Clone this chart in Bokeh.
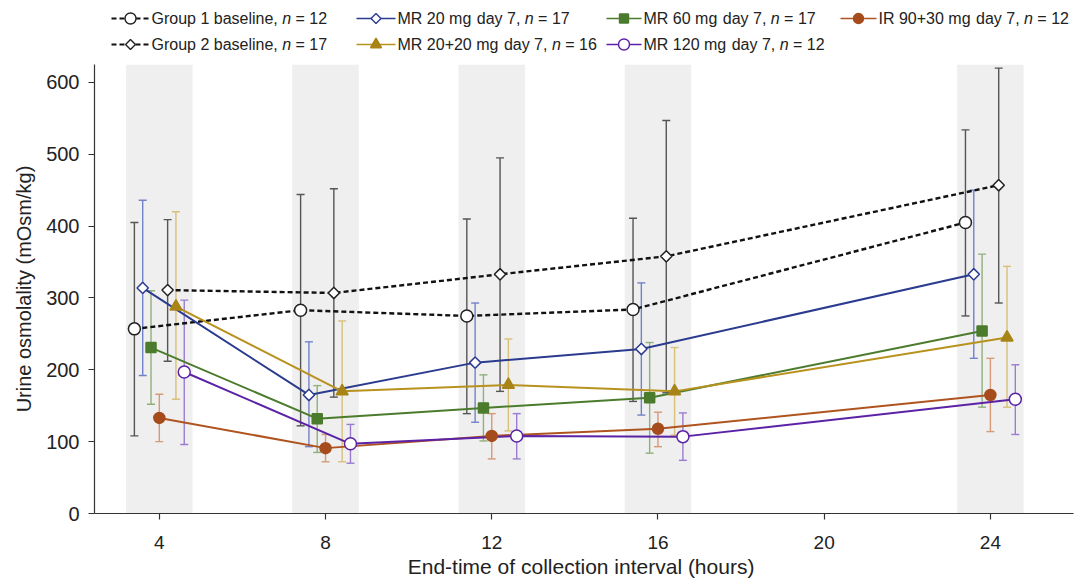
import numpy as np
from bokeh.plotting import figure
from bokeh.layouts import column
from bokeh.models import Range1d, FixedTicker
from bokeh.core.properties import value
from bokeh.embed import file_html
from bokeh.resources import INLINE

# ---------------- data ----------------
times = [4, 8, 12, 16, 24]
x_ticks = [4, 8, 12, 16, 20, 24]
y_ticks = [0, 100, 200, 300, 400, 500, 600]

series_names = ["Group 1 baseline", "MR 20 mg  day 7", "MR 60 mg  day 7", "IR 90+30 mg  day 7",
                "Group 2 baseline", "MR 20+20 mg  day 7", "MR 120 mg  day 7"]
series_n = [12, 17, 17, 12, 17, 16, 12]

g1_mean = [257, 283, 275, 284, 405]
g1_upper = [405, 444, 410, 411, 534]
g1_lower = [108, 122, 139, 156, 275]

mr20_mean = [314, 165, 210, 229, 333]
mr20_upper = [436, 239, 293, 321, 450]
mr20_lower = [192, 93, 127, 137, 216]

mr60_mean = [231, 132, 147, 161, 254]
mr60_upper = [310, 178, 193, 238, 361]
mr60_lower = [152, 85, 101, 84, 148]

ir_mean = [133, 91, 108, 118, 165]
ir_upper = [166, 110, 139, 141, 216]
ir_lower = [100, 72, 76, 93, 114]

g2_mean = [311, 307, 333, 358, 457]
g2_upper = [409, 452, 495, 547, 620]
g2_lower = [212, 162, 170, 168, 293]

mr2020_mean = [288, 170, 179, 170, 245]
mr2020_upper = [420, 268, 243, 231, 344]
mr2020_lower = [159, 72, 115, 109, 148]

mr120_mean = [197, 97, 108, 107, 159]
mr120_upper = [297, 124, 139, 140, 207]
mr120_lower = [96, 70, 76, 74, 110]

means = [g1_mean, mr20_mean, mr60_mean, ir_mean, g2_mean, mr2020_mean, mr120_mean]
uppers = [g1_upper, mr20_upper, mr60_upper, ir_upper, g2_upper, mr2020_upper, mr120_upper]
lowers = [g1_lower, mr20_lower, mr60_lower, ir_lower, g2_lower, mr2020_lower, mr120_lower]

# ---------------- styles ----------------
FONT = "Liberation Sans"
offsets = [-0.6, -0.4, -0.2, 0.0, 0.2, 0.4, 0.6]
styles = [
    dict(line="#111111", dash="5 3", lw=2.4, err="#555555", marker="circle", size=12, fill="white", mline="#222222", angle=0),
    dict(line="#2b3b8f", dash="solid", lw=2.0, err="#7282c8", marker="square", size=8, fill="white", mline="#2b3b8f", angle=np.pi / 4),
    dict(line="#4b7b2c", dash="solid", lw=2.0, err="#8fb07a", marker="square", size=10, fill="#4b7b2c", mline="#4b7b2c", angle=0),
    dict(line="#b0541f", dash="solid", lw=2.0, err="#d69a78", marker="circle", size=11, fill="#a64c1c", mline="#a64c1c", angle=0),
    dict(line="#111111", dash="5 3", lw=2.4, err="#555555", marker="square", size=8, fill="white", mline="#222222", angle=np.pi / 4),
    dict(line="#b8921f", dash="solid", lw=2.0, err="#d8c07a", marker="triangle", size=12, fill="#a88416", mline="#a88416", angle=0),
    dict(line="#5c22a6", dash="solid", lw=2.0, err="#9b7bd0", marker="circle", size=12, fill="white", mline="#5c22a6", angle=0),
]

# ---------------- main plot ----------------
Y_TOP = 625
main = figure(width=1074, height=524, x_range=Range1d(2.44, 26.0), y_range=Range1d(0, Y_TOP),
              output_backend="svg", toolbar_location=None,
              min_border_left=94, min_border_right=1, min_border_top=8, min_border_bottom=64)
main.outline_line_color = None
main.xgrid.visible = False
main.ygrid.visible = False
main.background_fill_color = "white"
main.border_fill_color = "white"

main.xaxis.ticker = FixedTicker(ticks=x_ticks)
main.yaxis.ticker = FixedTicker(ticks=y_ticks)
for ax in (main.xaxis, main.yaxis):
    ax.axis_line_color = "#333333"
    ax.axis_line_width = 1.2
    ax.major_tick_line_color = "#333333"
    ax.major_tick_line_width = 1.2
    ax.major_tick_in = 0
    ax.major_tick_out = 6
    ax.minor_tick_line_color = None
    ax.major_label_text_font = FONT
    ax.major_label_text_color = "#222222"
    ax.axis_label_text_font = FONT
    ax.axis_label_text_font_style = "normal"
    ax.axis_label_text_color = "#222222"
main.xaxis.axis_label_text_font_size = "21px"
main.yaxis.axis_label_text_font_size = "20px"
main.xaxis.major_label_text_font_size = "19px"
main.yaxis.major_label_text_font_size = "20px"
main.xaxis.major_label_standoff = 16
main.xaxis.axis_label_standoff = 3
main.yaxis.major_label_standoff = 9
main.yaxis.axis_label_standoff = 8
main.xaxis.axis_label = "End-time of  collection interval (hours)"
main.yaxis.axis_label = "Urine osmolality (mOsm/kg)"

# shaded collection bands
main.vbar(x=times, width=1.6, bottom=0, top=Y_TOP, fill_color="#efefef", line_color=None)

xs_all = [[t + off for t in times] for off in offsets]

# error bars
for xs, lo, hi, st in zip(xs_all, lowers, uppers, styles):
    main.segment(x0=xs, y0=lo, x1=xs, y1=hi, line_color=st["err"], line_width=1.4)
    main.scatter(x=xs, y=hi, marker="dash", size=8, line_color=st["err"], line_width=1.4)
    main.scatter(x=xs, y=lo, marker="dash", size=8, line_color=st["err"], line_width=1.4)

# lines
for xs, m, st in zip(xs_all, means, styles):
    main.line(x=xs, y=m, line_color=st["line"], line_width=st["lw"], line_dash=st["dash"])

# markers
for xs, m, st in zip(xs_all, means, styles):
    main.scatter(x=xs, y=m, marker=st["marker"], size=st["size"], fill_color=st["fill"],
                 line_color=st["mline"], line_width=1.5, angle=st["angle"])

# ---------------- legend (separate strip above; its frame is aligned with the main frame) ----------------
ARIAL = {" ": 278, ",": 278, "+": 584, "=": 584, "0": 556, "1": 556, "2": 556, "3": 556, "4": 556,
         "5": 556, "6": 556, "7": 556, "8": 556, "9": 556, "G": 778, "M": 833, "R": 722, "I": 278,
         "a": 556, "b": 556, "d": 556, "e": 556, "g": 556, "i": 222, "l": 222, "m": 833, "n": 556,
         "o": 556, "p": 556, "r": 333, "s": 500, "u": 556, "y": 500}


def text_w(s, size):
    return sum(ARIAL.get(c, 556) for c in s) * size / 1000.0


LEG_H = 56
# x in page pixels: the frame spans 96..1075 (979 px), so one unit is one pixel
leg = figure(width=1074, height=LEG_H, x_range=Range1d(96, 1075), y_range=Range1d(LEG_H, 0),
             output_backend="svg", toolbar_location=None,
             min_border_left=94, min_border_right=1, min_border_top=0, min_border_bottom=0)
leg.axis.visible = False
leg.xgrid.visible = False
leg.ygrid.visible = False
leg.outline_line_color = None

col_x = [113, 358, 608, 842]  # left end of each legend key
key_lens = [38, 39, 35, 36]
row_y = [18, 44]
slots = [(0, 0), (0, 1), (0, 2), (0, 3), (1, 0), (1, 1), (1, 2)]
LFS = 16


def put(x, y, s, italic=False):
    leg.text(x=[x], y=[y], text=[s], text_font=value(FONT), text_font_size=f"{LFS}px",
             text_font_style="italic" if italic else "normal",
             text_baseline="middle", text_align="left", text_color="#222222")


for (r, c), name, n, st in zip(slots, series_names, series_n, styles):
    x0 = col_x[c]
    y = row_y[r]
    key_len = key_lens[c]
    leg.line(x=[x0, x0 + key_len], y=[y, y], line_color=st["line"], line_width=st["lw"] - 0.4,
             line_dash=st["dash"])
    leg.scatter(x=[x0 + key_len / 2], y=[y], marker=st["marker"], size=st["size"] - 1,
                fill_color=st["fill"], line_color=st["mline"], line_width=1.4, angle=st["angle"])
    tx = x0 + key_len + 2
    pieces = name.split("  ")
    for i, pc in enumerate(pieces):
        s = pc + ("," if i == len(pieces) - 1 else "")
        put(tx, y, s)
        tx += text_w(pc, LFS) + (text_w(" ", LFS) + 1 if i < len(pieces) - 1 else text_w(", ", LFS))
    put(tx, y, "n", italic=True)
    tx += text_w("n ", LFS)
    put(tx, y, "= " + str(n))

layout = column(leg, main, spacing=0)
open("out.html", "w").write(file_html(layout, INLINE))
